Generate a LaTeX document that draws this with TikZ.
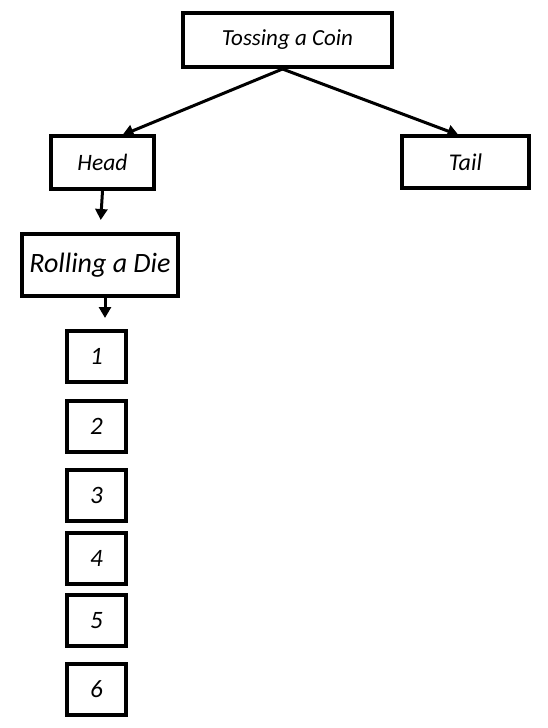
\documentclass[tikz,border=0pt]{standalone}
\usepackage{fontspec}
\setmainfont{Carlito}
\usetikzlibrary{arrows.meta}

\begin{document}
\begin{tikzpicture}[
    x=1pt, y=-1pt,
    box/.style={draw, line width=4pt, inner sep=0pt, align=center, font=\itshape},
    arrow/.style={-{Triangle[width=12pt,length=11pt]}, line width=3pt}
  ]
    \useasboundingbox (0,0) rectangle (548,728);
    \node[box, minimum width=209pt, minimum height=54pt, font=\fontsize{23}{27}\selectfont\itshape] (coin) at (287.5,40) {Tossing a Coin};
    \node[box, minimum width=103pt, minimum height=53pt, font=\fontsize{23.5}{27}\selectfont\itshape] (head) at (102.5,162.5) {Head};
    \node[box, minimum width=127pt, minimum height=52pt, font=\fontsize{24}{28}\selectfont\itshape] (tail) at (465.5,162) {Tail};
    \node[box, minimum width=156pt, minimum height=62pt, font=\fontsize{28}{32}\selectfont\itshape] (roll) at (100,265) {Rolling a Die};
    \foreach \n/\y in {1/356.5, 2/426, 3/495, 4/558, 5/620.5, 6/689.5}
      \node[box, minimum width=59pt, minimum height=51pt, font=\fontsize{25}{29}\selectfont\itshape] (d\n) at (96.5,\y) {\n};
    \draw[arrow] ([xshift=-5pt]coin.south) -- ([xshift=20pt, yshift=-1pt]head.north);
    \draw[arrow] ([xshift=-5pt]coin.south) -- ([xshift=-7pt, yshift=-1pt]tail.north);
    \draw[arrow, shorten >=12pt] (head.south) -- (roll.north);
    \draw[arrow, shorten >=11pt] ([xshift=5pt]roll.south) -- ([xshift=8.5pt]d1.north);
  \end{tikzpicture}
\end{document}
